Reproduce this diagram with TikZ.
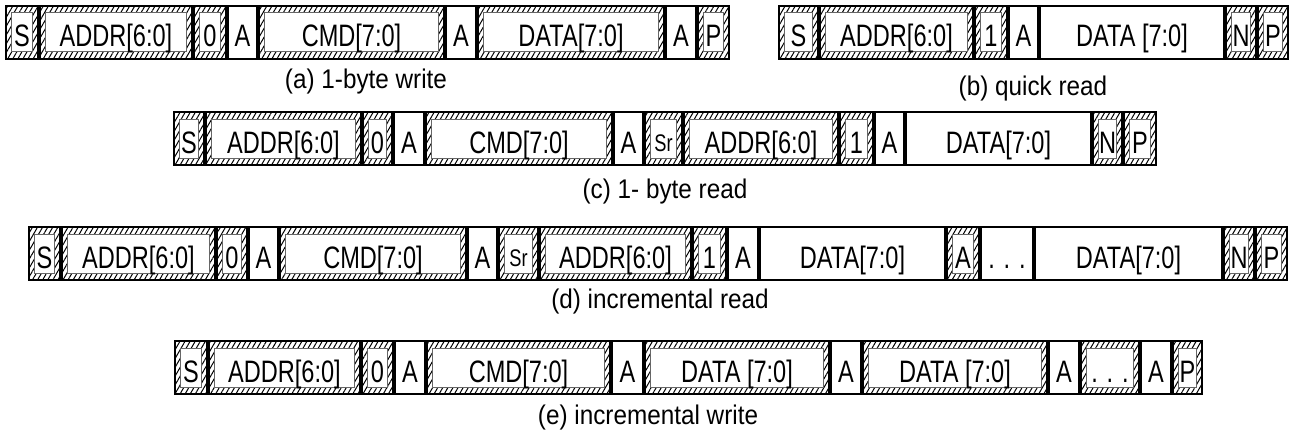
\documentclass[tikz,border=0pt]{standalone}
\usepackage{fontspec}
\newfontfamily\boxfont{Liberation Sans}[FakeStretch=0.76]
\newfontfamily\capfont{Liberation Sans}[FakeStretch=0.9]
\usetikzlibrary{patterns.meta}
\begin{document}
\begin{tikzpicture}[x=0.5pt,y=-0.5pt,
  cell/.style={draw,line width=1pt,inner sep=0pt,minimum height=26.5pt,minimum width=#1*0.5pt-1pt,
    text height=14.5pt,text depth=0pt,font={\boxfont\fontsize{15.5}{18}\selectfont}},
  hcell/.style={cell=#1,pattern={Lines[angle=60,distance=2.2pt,line width=0.5pt]},
    path picture={\draw[black!60,line width=0.5pt,fill=white]
      ([shift={(2.6pt,-3.5pt)}]path picture bounding box.north west) rectangle
      ([shift={(-2.6pt,3.5pt)}]path picture bounding box.south east);}},
  srtext/.style={font={\boxfont\fontsize{12}{14}\selectfont},text height=12.5pt},
  captext/.style={font={\capfont\fontsize{13.5}{16}\selectfont}}]
\useasboundingbox (0,0) rectangle (1293,433);
\node[hcell=34] (a1) at (22,32.5){S};
\node[hcell=154] (a2) at (116,32.5){ADDR[6:0]};
\node[hcell=34] (a3) at (210,32.5){0};
\node[cell=31] (a4) at (242.5,32.5){A};
\node[hcell=187] (a5) at (351.5,32.5){CMD[7:0]};
\node[cell=32] (a6) at (461,32.5){A};
\node[hcell=188] (a7) at (571,32.5){DATA[7:0]};
\node[cell=32] (a8) at (681,32.5){A};
\node[hcell=33] (a9) at (713.5,32.5){P};
\node[captext] (capa) at (366,82){(a) 1-byte write};
\node[hcell=41] (b1) at (798.5,32.5){S};
\node[hcell=155] (b2) at (896.5,32.5){ADDR[6:0]};
\node[hcell=34] (b3) at (991,32.5){1};
\node[cell=31] (b4) at (1023.5,32.5){A};
\node[cell=186] (b5) at (1132,32.5){DATA [7:0]};
\node[hcell=32] (b6) at (1241,32.5){N};
\node[hcell=32] (b7) at (1273,32.5){P};
\node[captext] (capb) at (1033,89){(b) quick read};
\node[hcell=32] (c1) at (189,138.5){S};
\node[hcell=157] (c2) at (283.5,138.5){ADDR[6:0]};
\node[hcell=31] (c3) at (377.5,138.5){0};
\node[cell=32] (c4) at (409,138.5){A};
\node[hcell=188] (c5) at (519,138.5){CMD[7:0]};
\node[cell=31] (c6) at (628.5,138.5){A};
\node[hcell=39,srtext] (c7) at (663.5,138.5){Sr};
\node[hcell=156] (c8) at (761,138.5){ADDR[6:0]};
\node[hcell=35] (c9) at (856.5,138.5){1};
\node[cell=31] (c10) at (889.5,138.5){A};
\node[cell=187] (c11) at (998.5,138.5){DATA[7:0]};
\node[hcell=31] (c12) at (1107.5,138.5){N};
\node[hcell=34] (c13) at (1140,138.5){P};
\node[captext] (capc) at (665,192){(c) 1- byte read};
\node[hcell=33] (d1) at (44.5,253.5){S};
\node[hcell=155] (d2) at (138.5,253.5){ADDR[6:0]};
\node[hcell=32] (d3) at (232,253.5){0};
\node[cell=31] (d4) at (263.5,253.5){A};
\node[hcell=188] (d5) at (373,253.5){CMD[7:0]};
\node[cell=31] (d6) at (482.5,253.5){A};
\node[hcell=41,srtext] (d7) at (518.5,253.5){Sr};
\node[hcell=153] (d8) at (615.5,253.5){ADDR[6:0]};
\node[hcell=35] (d9) at (709.5,253.5){1};
\node[cell=32] (d10) at (743,253.5){A};
\node[cell=187] (d11) at (852.5,253.5){DATA[7:0]};
\node[hcell=34] (d12) at (963,253.5){A};
\node[cell=54] (d13) at (1007,253.5){. . .};
\node[cell=189] (d14) at (1128.5,253.5){DATA[7:0]};
\node[hcell=32] (d15) at (1239,253.5){N};
\node[hcell=33] (d16) at (1271.5,253.5){P};
\node[captext] (capd) at (660,302){(d) incremental read};
\node[hcell=34] (e1) at (191,367.5){S};
\node[hcell=153] (e2) at (284.5,367.5){ADDR[6:0]};
\node[hcell=33] (e3) at (377.5,367.5){0};
\node[cell=32] (e4) at (410,367.5){A};
\node[hcell=185] (e5) at (518.5,367.5){CMD[7:0]};
\node[cell=33] (e6) at (627.5,367.5){A};
\node[hcell=186] (e7) at (737,367.5){DATA [7:0]};
\node[cell=32] (e8) at (846,367.5){A};
\node[hcell=186] (e9) at (955,367.5){DATA [7:0]};
\node[cell=32] (e10) at (1064,367.5){A};
\node[hcell=60] (e11) at (1110,367.5){. . .};
\node[cell=32] (e12) at (1156,367.5){A};
\node[hcell=31] (e13) at (1187.5,367.5){P};
\node[captext] (cape) at (648,418){(e) incremental write};
\end{tikzpicture}
\end{document}
